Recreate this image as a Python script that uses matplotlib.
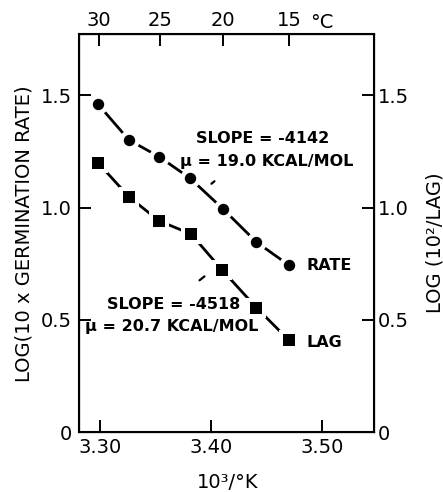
import numpy as np
import matplotlib
matplotlib.use("Agg")
import matplotlib.pyplot as plt

# Data (x = 10^3/K)
rate_x = [3.298, 3.326, 3.353, 3.381, 3.411, 3.441, 3.470]
rate_y = [1.461, 1.301, 1.227, 1.131, 0.993, 0.846, 0.744]
lag_x = [3.298, 3.326, 3.353, 3.382, 3.410, 3.441, 3.470]
lag_y = [1.200, 1.048, 0.941, 0.882, 0.722, 0.554, 0.410]

x_ticks = [3.30, 3.40, 3.50]
x_ticklabels = ["3.30", "3.40", "3.50"]
y_ticks = [0, 0.5, 1.0, 1.5]
y_ticklabels = ["0", "0.5", "1.0", "1.5"]
top_temps_c = [30, 25, 20, 15]

plt.rcParams['font.family'] = ['DejaVu Sans']

fig = plt.figure(figsize=(4.43, 4.92), dpi=100)
ax = fig.add_axes([79/443, 1-432/492, 295/443, 398/492])
ax.set_xlim(3.281, 3.547)
ax.set_ylim(0, 1.773)

for xs, ys, mk, msz in [(rate_x, rate_y, 'o', 8.2), (lag_x, lag_y, 's', 8.6)]:
    ax.plot(xs, ys, '-', color='black', lw=2.0, zorder=2)
    ax.plot(xs, ys, mk, color='white', ms=msz + 6.5, mew=0, zorder=3)
    ax.plot(xs, ys, mk, color='black', ms=msz, mew=0, zorder=4)

tf = dict(fontsize=11.5, fontweight='bold', color='black')
ax.text(3.3865, 1.308, "SLOPE = -4142", ha='left', va='center', **tf)
ax.text(3.372, 1.205, "\u03bc = 19.0 KCAL/MOL", ha='left', va='center', **tf)
ax.text(3.3063, 0.567, "SLOPE = -4518", ha='left', va='center', **tf)
ax.text(3.2865, 0.469, "\u03bc = 20.7 KCAL/MOL", ha='left', va='center', **tf)
ax.text(3.4865, 0.741, "RATE", ha='left', va='center', **tf)
ax.text(3.4865, 0.397, "LAG", ha='left', va='center', **tf)

ax.annotate("", xy=(3.4051, 1.125), xytext=(3.3985, 1.098),
            arrowprops=dict(arrowstyle='-', color='black', lw=1.6))
ax.annotate("", xy=(3.3961, 0.701), xytext=(3.3877, 0.668),
            arrowprops=dict(arrowstyle='-', color='black', lw=1.6))

ax.set_xticks(x_ticks)
ax.set_xticklabels(x_ticklabels)
ax.set_yticks(y_ticks)
ax.set_yticklabels(y_ticklabels)
ax.tick_params(axis='both', direction='in', length=8.5, width=1.4, labelsize=14)
ax.tick_params(axis='x', pad=4)
ax.tick_params(axis='y', pad=5)
for s in ax.spines.values():
    s.set_linewidth(1.5)

# top axis (deg C)
axt = ax.twiny()
axt.set_xlim(ax.get_xlim())
axt.set_xticks([1000.0 / (t + 273.15) for t in top_temps_c])
axt.set_xticklabels([str(t) for t in top_temps_c])
axt.tick_params(axis='x', direction='in', length=8.5, width=1.4, labelsize=14, pad=3)

# right axis
axr = ax.twinx()
axr.set_ylim(ax.get_ylim())
axr.set_yticks(y_ticks)
axr.set_yticklabels(y_ticklabels)
axr.tick_params(axis='y', direction='in', length=8.5, width=1.4, labelsize=14, pad=3)

fig.text(24/443, 1-234/492, "LOG(10 x GERMINATION RATE)", rotation=90,
         ha='center', va='center', fontsize=14)
fig.text(435/443, 1-243/492, "LOG (10\u00b2/LAG)", rotation=90,
         ha='center', va='center', fontsize=14)
fig.text(228/443, 1-482/492, "10\u00b3/\u00b0K", ha='center', va='center', fontsize=14)
fig.text(322/443, 1-23/492, "\u00b0C", ha='center', va='center', fontsize=14)

fig.savefig("out.png", dpi=100)
